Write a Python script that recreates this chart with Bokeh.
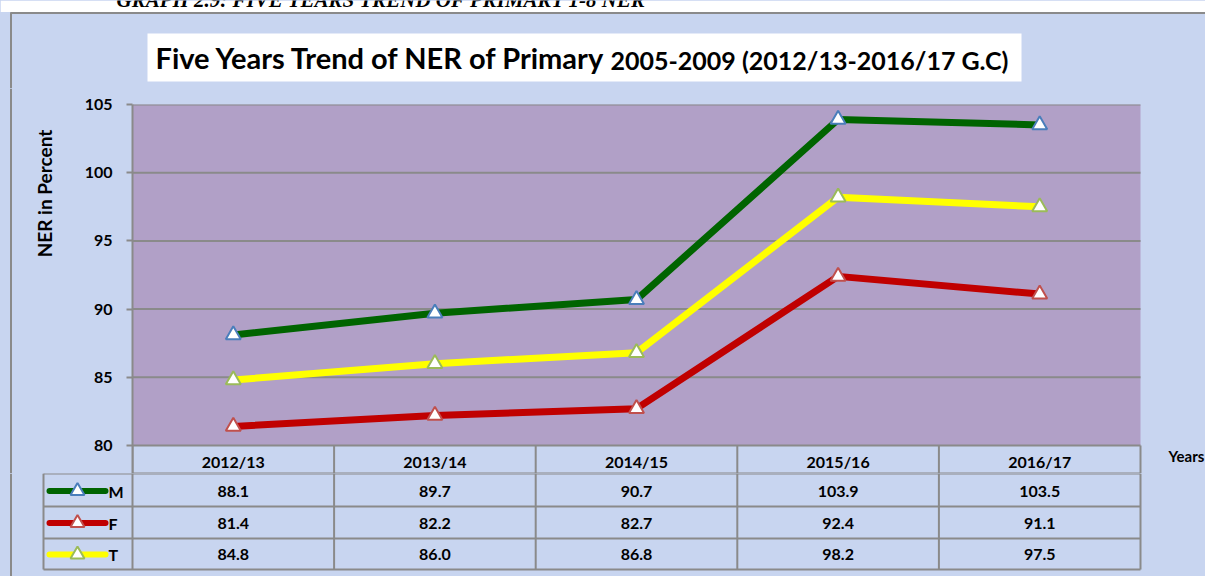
import math
from bokeh.plotting import figure
from bokeh.layouts import column, row
from bokeh.models import Range1d, FixedTicker
from bokeh.core.properties import value
from bokeh.embed import file_html
from bokeh.resources import INLINE

# ---------------- data ----------------
years = ["2012/13", "2013/14", "2014/15", "2015/16", "2016/17"]
male = [88.1, 89.7, 90.7, 103.9, 103.5]
female = [81.4, 82.2, 82.7, 92.4, 91.1]
total = [84.8, 86.0, 86.8, 98.2, 97.5]
series_names = ["M", "F", "T"]
y_ticks = [80, 85, 90, 95, 100, 105]
caption = "GRAPH 2.9: FIVE YEARS TREND OF PRIMARY 1-8 NER"
title_main = "Five Years Trend of NER of Primary"
title_sub = "2005-2009 (2012/13-2016/17 G.C)"
y_label = "NER in Percent"
x_label = "Years"

# ---------------- styles / layout ----------------
BG = "#c8d5f0"
PLOT_BG = "#b1a0c7"
GRID = "#8a8a8a"
LINE_COLORS = ["#006400", "#c00000", "#ffff00"]
MARKER_COLORS = ["#4a7ebb", "#c0504d", "#9bbb59"]
FONT = "Lato"
W = 1205
H = 576
COL_PX = 201.6           # pixel width of one category column
FRAME_L = 132            # left edge of plot area (page px)
FRAME_R = 1140           # right edge of plot area (page px)
TOP_H = 88               # title strip height
PLOT_TOP = 104           # page y of top of plot area
PLOT_BOT = 445           # page y of bottom of plot area
HEAD_BOT = 473           # page y of bottom of header row
YL_W = 60                # width of the y-label strip

series = [male, female, total]
idx = list(range(len(years)))
y_lo, y_hi = y_ticks[0], y_ticks[-1]
PX_PER_UNIT = (PLOT_BOT - PLOT_TOP) / (y_hi - y_lo)


def bare(fig):
    fig.grid.visible = False
    fig.outline_line_color = None
    return fig


def px(page_x):
    return -0.5 + (page_x - FRAME_L) / COL_PX


common = dict(toolbar_location=None, output_backend="svg", frame_align=False)
txt = dict(text_font=value(FONT), text_font_style="bold", text_color="black")

# ---------------- title strip ----------------
tf = figure(width=W, height=TOP_H, x_range=Range1d(0, W), y_range=Range1d(TOP_H, 0),
            min_border=0, x_axis_location=None, y_axis_location=None,
            background_fill_color=BG, border_fill_color=BG, **common)
bare(tf)
tf.quad(left=0, right=W, top=0, bottom=11.5, fill_color="white", line_color=None)
tf.text(x=[116], y=[-1], text=[caption], text_font=value("Liberation Serif"),
        text_font_style="bold italic", text_font_size="21px", text_color="black",
        text_baseline="middle", text_align="left")
tf.line([10, W], [12.5, 12.5], line_color=GRID, line_width=2)
tf.line([10.5, 10.5], [12, TOP_H], line_color=GRID, line_width=2)
tf.quad(left=147, right=1021, top=33, bottom=81, fill_color="white", line_color=None)
tf.text(x=[155], y=[57], text=[title_main], text_font_size="29px",
        text_baseline="middle", text_align="left", **txt)
tf.text(x=[610], y=[59], text=[title_sub], text_font_size="25px",
        text_baseline="middle", text_align="left", **txt)

# ---------------- y label strip ----------------
CH = HEAD_BOT - TOP_H
yl = figure(width=YL_W, height=CH, x_range=Range1d(0, YL_W), y_range=Range1d(HEAD_BOT, TOP_H),
            min_border=0, x_axis_location=None, y_axis_location=None,
            background_fill_color=BG, border_fill_color=BG, **common)
bare(yl)
yl.line([10.5, 10.5], [TOP_H, HEAD_BOT], line_color=GRID, line_width=2)
yl.text(x=[44], y=[193], text=[y_label], angle=math.pi / 2, text_font_size="19px",
        text_align="center", text_baseline="middle", **txt)

# ---------------- chart (plot area + header row) ----------------
y_start = y_lo - (HEAD_BOT - PLOT_BOT) / PX_PER_UNIT
cf = figure(width=W - YL_W, height=CH,
            x_range=Range1d(-0.5, len(years) - 0.5 + (W - FRAME_R) / COL_PX),
            y_range=Range1d(y_start, y_hi),
            min_border_left=FRAME_L - YL_W, min_border_right=0,
            min_border_top=PLOT_TOP - TOP_H, min_border_bottom=0, x_axis_location=None,
            background_fill_color=BG, border_fill_color=BG, outline_line_color=None,
            **common)
col_edges = [i - 0.5 for i in range(len(years) + 1)]
right_edge = col_edges[-1]
cf.quad(left=col_edges[0], right=right_edge, bottom=y_lo, top=y_hi,
        fill_color=PLOT_BG, line_color=None)
cf.grid.visible = False
# horizontal gridlines at the tick values, limited to the plot area
cf.segment(x0=[col_edges[0]] * len(y_ticks), x1=[right_edge] * len(y_ticks),
           y0=y_ticks, y1=y_ticks, line_color=GRID, line_width=2)
ax = cf.yaxis[0]
ax.ticker = FixedTicker(ticks=y_ticks)
ax.axis_line_color = GRID
ax.axis_line_width = 2
ax.major_tick_line_color = GRID
ax.major_tick_line_width = 2
ax.major_tick_out = 6
ax.major_tick_in = 0
ax.minor_tick_line_color = None
ax.major_label_standoff = 14
ax.major_label_text_font = FONT
ax.major_label_text_font_style = "bold"
ax.major_label_text_font_size = "16px"
ax.major_label_text_color = "black"

for vals, lc, mc in zip(series, LINE_COLORS, MARKER_COLORS):
    cf.line(x=idx, y=vals, line_color=lc, line_width=7)
    cf.scatter(x=idx, y=vals, marker="triangle", size=15, fill_color="white",
               line_color=mc, line_width=2)

# header row of the data table
cf.segment(x0=col_edges, x1=col_edges, y0=[y_lo] * len(col_edges), y1=[y_start] * len(col_edges),
           line_color=GRID, line_width=2)
cf.segment(x0=[col_edges[0]], x1=[right_edge], y0=[y_start], y1=[y_start],
           line_color=GRID, line_width=2)
cf.text(x=idx, y=[y_lo - 16 / PX_PER_UNIT] * len(years), text=years, text_font_size="16px",
        text_align="center", text_baseline="middle", **txt)
cf.text(x=[px(1168)], y=[y_lo - 10 / PX_PER_UNIT], text=[x_label], text_font_size="15px",
        text_align="left", text_baseline="middle", **txt)

# ---------------- data rows of the table ----------------
TB_H = H - HEAD_BOT
x0 = -0.5 - FRAME_L / COL_PX
x1 = len(years) - 0.5 + (W - FRAME_R) / COL_PX
tb = figure(width=W, height=TB_H, x_range=Range1d(x0, x1), y_range=Range1d(TB_H, 0),
            min_border=0, x_axis_location=None, y_axis_location=None,
            background_fill_color=BG, border_fill_color=BG, **common)
bare(tb)
row_edges = [0, 33, 65, 96]
row_mid = [17.5, 49.5, 81]
leg_left = px(43)

tb.line([px(10.5)] * 2, [0, TB_H], line_color=GRID, line_width=2)
tb.segment(x0=[leg_left] * len(row_edges), x1=[right_edge] * len(row_edges),
           y0=row_edges, y1=row_edges, line_color=GRID, line_width=2)
vx = [leg_left] + col_edges
tb.segment(x0=vx, x1=vx, y0=[0] * len(vx), y1=[row_edges[-1]] * len(vx),
           line_color=GRID, line_width=2)

for r, (vals, lc, mc, name) in enumerate(zip(series, LINE_COLORS, MARKER_COLORS, series_names)):
    ym = row_mid[r]
    tb.text(x=idx, y=[ym] * len(vals), text=[f"{v:.1f}" for v in vals], text_font_size="16px",
            text_align="center", text_baseline="middle", **txt)
    tb.segment(x0=[px(49)], x1=[px(105)], y0=[ym], y1=[ym],
               line_color=lc, line_width=6, line_cap="round")
    tb.scatter(x=[px(77)], y=[ym], marker="triangle", size=14,
               fill_color="white", line_color=mc, line_width=2)
    tb.text(x=[px(108)], y=[ym], text=[name], text_font_size="16px",
            text_align="left", text_baseline="middle", **txt)

layout = column(tf, row(yl, cf, spacing=0, styles={"background-color": BG}), tb,
                spacing=0, styles={"background-color": BG})
open("out.html", "w").write(file_html(layout, INLINE))
